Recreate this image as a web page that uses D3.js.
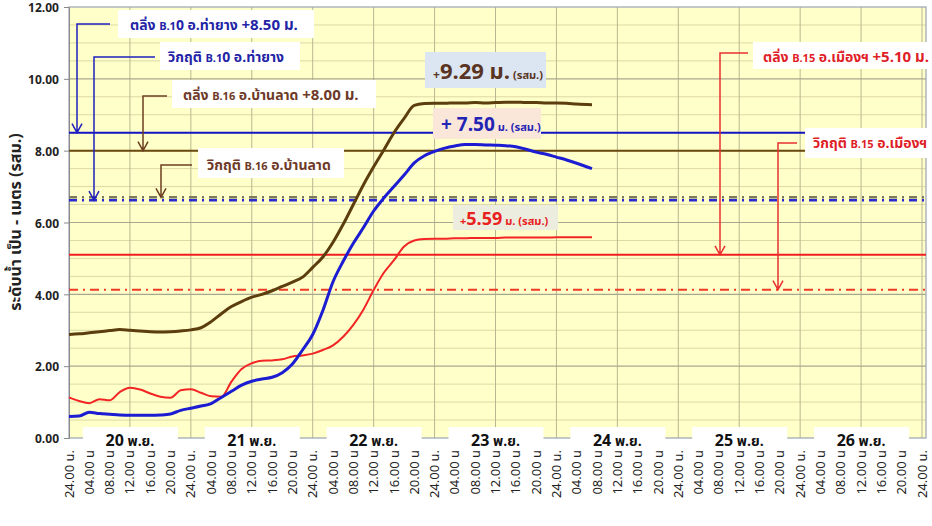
<!DOCTYPE html>
<meta charset="utf-8" />
<script src="https://d3js.org/d3.v7.min.js"></script>
<body style="margin: 0; background-color: #ffffff">
  <div id="chart"></div>
  <script>
    // hours counted from 20 Nov 00:00
    var hours = [0, 2, 4, 6, 8, 10, 12, 14, 16, 18, 20, 22, 24, 26, 28, 30, 32, 34, 36, 38,
      40, 42, 44, 46, 48, 50, 52, 54, 56, 58, 60, 62, 64, 66, 68, 70, 72, 74, 76, 78,
      80, 82, 84, 86, 88, 90, 92, 94, 96, 98, 100, 103];

    // B.16 อ.บ้านลาด
    var b16 = [2.88, 2.90, 2.93, 2.96, 2.99, 3.02, 3.00, 2.98, 2.96, 2.95, 2.96, 2.98, 3.01, 3.07, 3.24, 3.46, 3.66, 3.80, 3.92, 4.00,
      4.10, 4.22, 4.34, 4.48, 4.75, 5.04, 5.45, 5.95, 6.50, 7.05, 7.55, 8.02, 8.50, 8.90, 9.26, 9.31, 9.32, 9.32, 9.33, 9.33,
      9.34, 9.33, 9.34, 9.35, 9.35, 9.34, 9.34, 9.33, 9.33, 9.32, 9.30, 9.28];
    // B.10 อ.ท่ายาง
    var b10 = [0.60, 0.61, 0.72, 0.68, 0.66, 0.64, 0.63, 0.63, 0.63, 0.64, 0.67, 0.77, 0.83, 0.89, 0.96, 1.13, 1.30, 1.47, 1.58, 1.64,
      1.69, 1.82, 2.06, 2.45, 2.88, 3.55, 4.35, 4.92, 5.42, 5.86, 6.32, 6.68, 7.00, 7.32, 7.66, 7.86, 7.98, 8.07, 8.13, 8.17,
      8.17, 8.16, 8.15, 8.14, 8.11, 8.04, 7.96, 7.90, 7.82, 7.74, 7.65, 7.50];
    // B.15 อ.เมืองฯ
    var b15 = [1.13, 1.03, 0.97, 1.08, 1.05, 1.28, 1.40, 1.35, 1.24, 1.15, 1.12, 1.33, 1.36, 1.26, 1.16, 1.15, 1.57, 1.92, 2.08, 2.15,
      2.16, 2.19, 2.27, 2.30, 2.35, 2.45, 2.58, 2.82, 3.15, 3.58, 4.12, 4.60, 4.95, 5.33, 5.50, 5.54, 5.55, 5.55, 5.56, 5.56,
      5.57, 5.57, 5.57, 5.58, 5.58, 5.58, 5.58, 5.58, 5.59, 5.59, 5.59, 5.59];

    // reference levels (ตลิ่ง / วิกฤติ)
    var refNames = ["b10bank", "b16bank", "b16crit", "b10crit", "b15bank", "b15crit"];
    var refLevels = [8.50, 8.00, 6.70, 6.62, 5.10, 4.13];
    var refEndHour = [145, 145, 168.8, 168.8, 168.8, 168.8];

    var days = ["20", "21", "22", "23", "24", "25", "26"];
    var tickHours = d3.range(0, 169, 4);
    var yTicks = [0, 2, 4, 6, 8, 10, 12];

    var W = 932, H = 526;
    var pL = 69, pR = 926, pT = 7, pB = 438;
    var font = "Tahoma, 'Leelawadee UI', 'Noto Sans Thai', 'Noto Sans', sans-serif";

    var svg = d3.select("#chart").append("svg")
      .attr("width", W).attr("height", H)
      .style("font-family", font);

    var x = d3.scaleLinear().domain([0, 168]).range([pL, 922]);
    var y = d3.scaleLinear().domain([0, 12]).range([pB, pT]);

    // plot background
    svg.append("rect")
      .attr("x", pL).attr("y", pT)
      .attr("width", pR - pL).attr("height", pB - pT)
      .attr("fill", "#ffffc9");

    // minor horizontal grid
    svg.append("g").selectAll("line")
      .data(d3.range(0.5, 12, 0.5).filter(function (d) { return d % 2 !== 0; }))
      .enter().append("line")
      .attr("x1", pL).attr("x2", pR)
      .attr("y1", function (d) { return y(d); })
      .attr("y2", function (d) { return y(d); })
      .attr("stroke", "#dcd9a6").attr("stroke-width", 1);

    // vertical grid every 12 hours
    svg.append("g").selectAll("line")
      .data(d3.range(12, 169, 12))
      .enter().append("line")
      .attr("x1", function (d) { return x(d); })
      .attr("x2", function (d) { return x(d); })
      .attr("y1", pT).attr("y2", pB)
      .attr("stroke", "#b9b692").attr("stroke-width", 1);

    // major horizontal grid
    svg.append("g").selectAll("line")
      .data([2, 4, 6, 8, 10])
      .enter().append("line")
      .attr("x1", pL).attr("x2", pR)
      .attr("y1", function (d) { return y(d); })
      .attr("y2", function (d) { return y(d); })
      .attr("stroke", "#a9a78f").attr("stroke-width", 1.2);

    // frame
    svg.append("rect")
      .attr("x", pL).attr("y", pT)
      .attr("width", pR - pL).attr("height", pB - pT)
      .attr("fill", "none").attr("stroke", "#9aa3b4").attr("stroke-width", 1.2);

    // y axis
    var yAxis = svg.append("g")
      .attr("transform", "translate(" + pL + ",0)")
      .call(d3.axisLeft(y).tickValues(yTicks).tickSize(5).tickFormat(d3.format(".2f")));
    yAxis.select(".domain").attr("stroke", "#8a8a8a");
    yAxis.selectAll(".tick line").attr("stroke", "#8a8a8a");
    yAxis.selectAll("text")
      .attr("x", -10).attr("dy", "0.4em")
      .style("font-family", font).style("font-size", "12px")
      .style("font-weight", "bold").attr("fill", "#222");

    svg.append("text")
      .attr("transform", "translate(21," + 222 + ") rotate(-90)")
      .attr("text-anchor", "middle")
      .style("font-size", "16px").style("font-weight", "bold")
      .attr("fill", "#222")
      .text("ระดับน้ำ เป็น - เมตร (รสม.)");

    // reference lines
    var refStyle = {
      b10bank: { c: "#1414c4", w: 2, dash: null },
      b16bank: { c: "#6b4a10", w: 2, dash: null },
      b16crit: { c: "#7c7a5c", w: 2.5, dash: "8,5,2,5" },
      b10crit: { c: "#2a2ad0", w: 2.5, dash: "8,5,2,5" },
      b15bank: { c: "#f01e1e", w: 2, dash: null },
      b15crit: { c: "#f03a28", w: 2, dash: "9,5,2,5" }
    };
    refNames.forEach(function (n, i) {
      var s = refStyle[n];
      svg.append("line")
        .attr("x1", pL).attr("x2", Math.min(x(refEndHour[i]), pR))
        .attr("y1", y(refLevels[i])).attr("y2", y(refLevels[i]))
        .attr("stroke", s.c).attr("stroke-width", s.w)
        .attr("stroke-dasharray", s.dash);
    });

    // series
    var line = d3.line()
      .x(function (d) { return x(d[0]); })
      .y(function (d) { return y(d[1]); })
      .curve(d3.curveMonotoneX);
    function draw(vals, color, w) {
      svg.append("path")
        .datum(hours.map(function (h, i) { return [h, vals[i]]; }))
        .attr("d", line)
        .attr("fill", "none").attr("stroke", color)
        .attr("stroke-width", w).attr("stroke-linejoin", "round");
    }
    draw(b15, "#f22424", 2);
    draw(b16, "#5c3d0e", 3);
    draw(b10, "#1c1cd2", 3);

    // value call-outs
    function callout(bx, by, bw, bh, fill, color, parts, tx, ty) {
      svg.append("rect").attr("x", bx).attr("y", by).attr("width", bw).attr("height", bh).attr("fill", fill);
      var t = svg.append("text").attr("x", tx).attr("y", ty).attr("fill", color).style("font-weight", "bold");
      parts.forEach(function (p) {
        t.append("tspan").style("font-size", p[1] + "px").text(p[0]);
      });
    }
    callout(425, 52, 121, 36, "#dce6f2", "#5a3422",
      [["+", 12], ["9.29 ม.", 22], [" (รสม.)", 11]], 433, 79);
    callout(433, 108, 108, 31, "#fbe6da", "#2424b4",
      [["+ 7.50", 19], [" ม. (รสม.)", 11]], 441, 131);
    callout(453, 205, 105, 25, "#ececdf", "#e82020",
      [["+", 11], ["5.59", 18], [" ม. (รสม.)", 11]], 460, 225);

    // labels with leader arrows
    function label(bx, by, bw, bh, color, parts, tx, ty) {
      svg.append("rect").attr("x", bx).attr("y", by).attr("width", bw).attr("height", bh).attr("fill", "#ffffff");
      var t = svg.append("text").attr("x", tx).attr("y", ty).attr("fill", color).style("font-weight", "bold");
      parts.forEach(function (p) {
        t.append("tspan").style("font-size", p[1] + "px").text(p[0]);
      });
    }
    function leader(x0, xa, ya, yTip, color) {
      svg.append("path")
        .attr("d", "M" + x0 + "," + ya + "H" + xa + "V" + yTip +
          "M" + (xa - 5) + "," + (yTip - 9) + "L" + xa + "," + yTip + "L" + (xa + 5) + "," + (yTip - 9))
        .attr("fill", "none").attr("stroke", color).attr("stroke-width", 1.5);
    }

    label(118, 10, 196, 28, "#2323a6", [["ตลิ่ง ", 14], ["B.1", 11], ["0", 14], [" อ.ท่ายาง ", 14], ["+8.50 ม.", 15]], 130, 30);
    leader(110, 77, 24, y(refLevels[0]), "#2020c0");
    label(160, 42, 140, 28, "#2323a6", [["วิกฤติ ", 14], ["B.1", 11], ["0", 14], [" อ.ท่ายาง", 14]], 168, 62);
    leader(155, 94, 57, y(refLevels[3]), "#2020c0");
    label(172, 80, 204, 28, "#6e3a28", [["ตลิ่ง ", 14], ["B.16", 11], [" อ.บ้านลาด ", 14], ["+8.00 ม.", 15]], 183, 100);
    leader(167, 143, 96, y(refLevels[1]), "#6e3f22");
    label(198, 148, 146, 30, "#6e3a28", [["วิกฤติ ", 14], ["B.16", 11], [" อ.บ้านลาด", 14]], 207, 170);
    leader(192, 161, 165, y(refLevels[2]), "#6e3f22");
    label(753, 42, 179, 27, "#e01e28", [["ตลิ่ง ", 14], ["B.15", 11], [" อ.เมืองฯ ", 14], ["+5.10 ม.", 15]], 763, 62);
    leader(748, 720, 53, y(refLevels[4]), "#e83030");
    label(805, 128, 127, 30, "#e01e28", [["วิกฤติ ", 14], ["B.15", 11], [" อ.เมืองฯ", 14]], 813, 148);
    leader(797, 778, 143, y(refLevels[5]), "#e83030");

    // day boxes
    var dayG = svg.append("g").selectAll("g").data(days).enter().append("g");
    dayG.append("rect")
      .attr("x", function (d, i) { return x(i * 24 + 12) - 47; })
      .attr("y", 427).attr("width", 95).attr("height", 22)
      .attr("fill", "#ffffff");
    var dayT = dayG.append("text")
      .attr("x", function (d, i) { return x(i * 24 + 12); })
      .attr("y", 446).attr("text-anchor", "middle")
      .attr("fill", "#111").style("font-weight", "bold");
    dayT.append("tspan").style("font-size", "16px").text(function (d) { return d; });
    dayT.append("tspan").style("font-size", "14px").text(" พ.ย.");

    // x tick labels
    svg.append("g").selectAll("text")
      .data(tickHours)
      .enter().append("text")
      .attr("transform", function (d) { return "translate(" + x(d) + ",450) rotate(-90)"; })
      .attr("text-anchor", "end").attr("dy", "0.35em")
      .style("font-size", "13px").attr("fill", "#222")
      .text(function (d) {
        var h = d % 24;
        return h === 0 ? "24.00 น." : d3.format("02")(h) + ".00 น";
      });
  </script>
</body>
